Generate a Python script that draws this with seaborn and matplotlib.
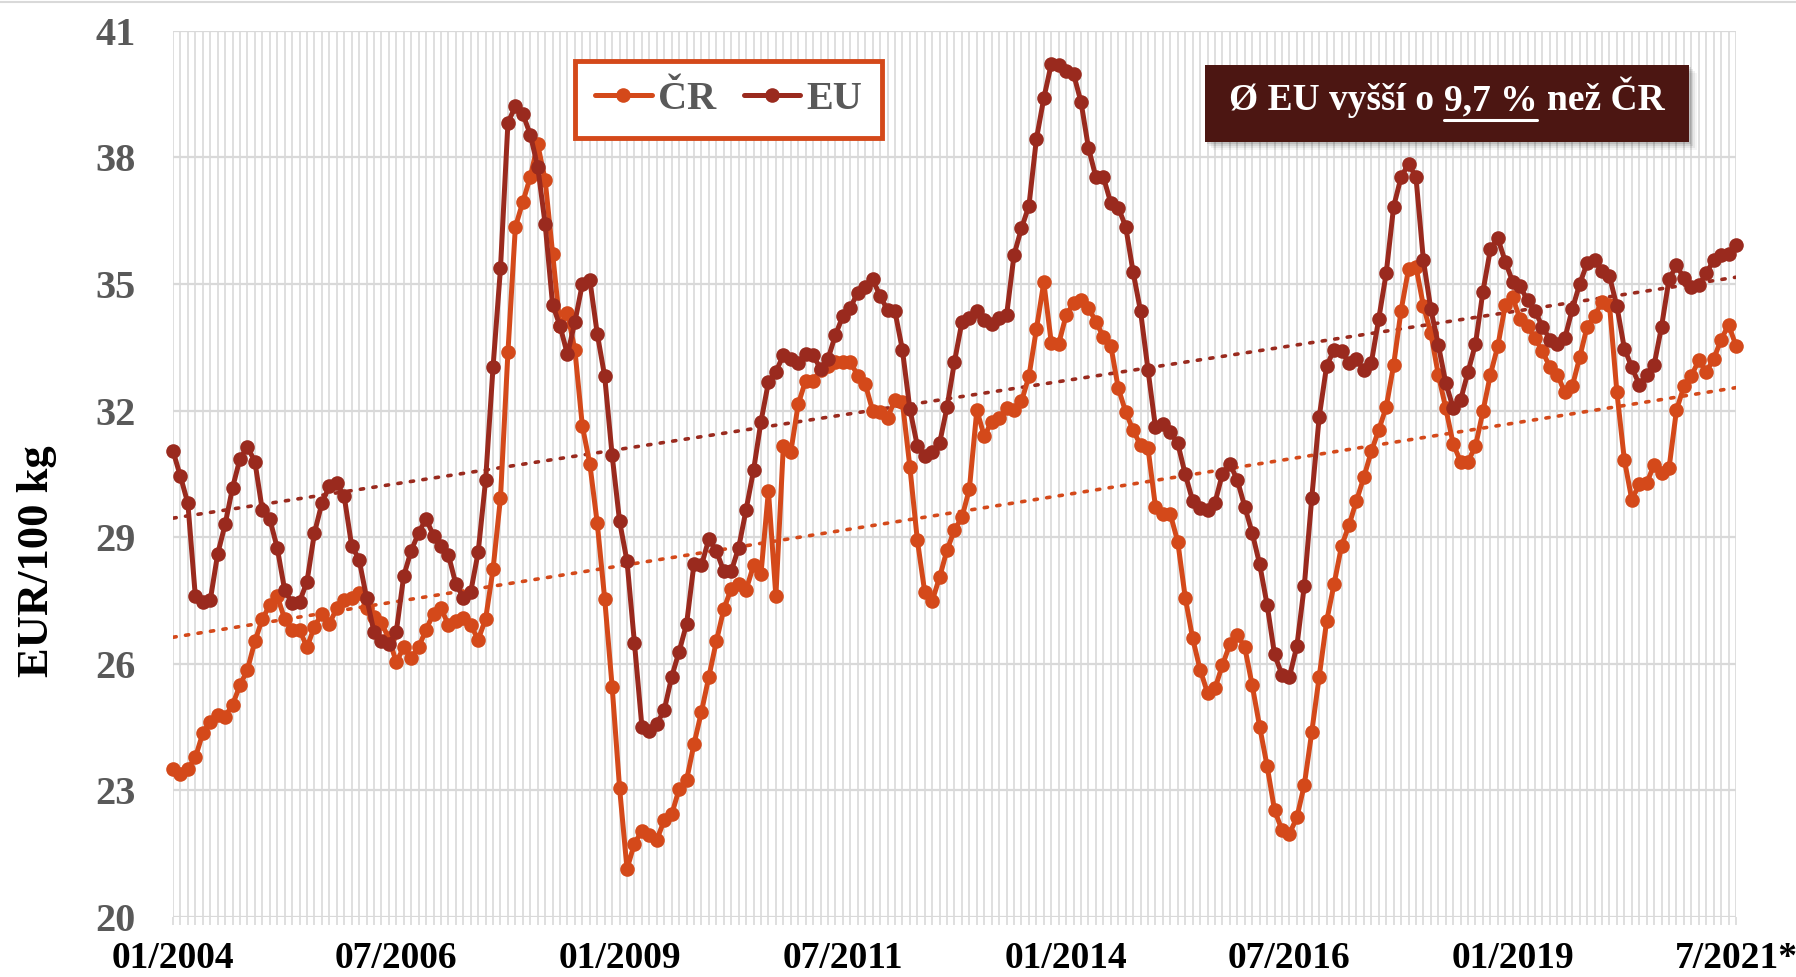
import numpy as np
import pandas as pd
import matplotlib
matplotlib.use("Agg")
import matplotlib.pyplot as plt
import seaborn as sns
from matplotlib.patches import Rectangle
from matplotlib.lines import Line2D

# ---------------- data (EUR/100 kg, monthly 01/2004 - 07/2021) ----------------
cr = [23.51, 23.38, 23.51, 23.78, 24.35, 24.63, 24.79, 24.75, 25.03, 25.49,
      25.86, 26.53, 27.06, 27.39, 27.61, 27.06, 26.81, 26.81, 26.39, 26.88,
      27.19, 26.94, 27.32, 27.50, 27.57, 27.67, 27.33, 27.11, 26.97, 26.60,
      26.04, 26.39, 26.14, 26.39, 26.81, 27.19, 27.32, 26.92, 27.01, 27.08,
      26.92, 26.57, 27.06, 28.24, 29.93, 33.38, 36.35, 36.94, 37.53, 38.31,
      37.46, 35.72, 34.00, 34.30, 33.43, 31.63, 30.74, 29.33, 27.54, 25.46,
      23.06, 21.14, 21.74, 22.04, 21.94, 21.83, 22.29, 22.43, 23.03, 23.24,
      24.10, 24.86, 25.69, 26.53, 27.29, 27.78, 27.89, 27.75, 28.33, 28.13,
      30.10, 27.60, 31.15, 31.01, 32.15, 32.71, 32.71, 32.96, 33.06, 33.15,
      33.15, 33.15, 32.83, 32.63, 32.00, 31.96, 31.83, 32.25, 32.20, 30.67,
      28.94, 27.70, 27.49, 28.05, 28.70, 29.17, 29.47, 30.14, 32.01, 31.39,
      31.74, 31.83, 32.06, 32.01, 32.22, 32.81, 33.93, 35.04, 33.61, 33.58,
      34.26, 34.54, 34.61, 34.44, 34.10, 33.75, 33.54, 32.53, 31.97, 31.53,
      31.18, 31.11, 29.72, 29.54, 29.54, 28.89, 27.57, 26.60, 25.86, 25.31,
      25.42, 25.97, 26.46, 26.69, 26.39, 25.49, 24.51, 23.58, 22.53, 22.06,
      21.97, 22.36, 23.13, 24.38, 25.69, 27.01, 27.89, 28.79, 29.28, 29.86,
      30.42, 31.03, 31.54, 32.08, 33.08, 34.37, 35.35, 35.41, 34.48, 33.83,
      32.85, 32.06, 31.21, 30.79, 30.79, 31.16, 31.98, 32.85, 33.53, 34.50,
      34.68, 34.16, 34.00, 33.71, 33.40, 33.03, 32.85, 32.43, 32.57, 33.26,
      33.99, 34.24, 34.58, 34.51, 32.43, 30.83, 29.89, 30.25, 30.28, 30.72,
      30.53, 30.63, 32.01, 32.57, 32.82, 33.19, 32.92, 33.22, 33.68, 34.03,
      33.54]

eu = [31.04, 30.44, 29.80, 27.60, 27.47, 27.50, 28.60, 29.30, 30.17, 30.86,
      31.14, 30.79, 29.64, 29.43, 28.75, 27.75, 27.43, 27.47, 27.94, 29.10,
      29.80, 30.21, 30.28, 29.97, 28.80, 28.47, 27.57, 26.76, 26.53, 26.46,
      26.76, 28.08, 28.68, 29.10, 29.44, 29.03, 28.80, 28.58, 27.89, 27.57,
      27.70, 28.64, 30.35, 33.03, 35.37, 38.82, 39.21, 39.03, 38.54, 37.78,
      36.42, 34.51, 34.00, 33.33, 34.10, 35.00, 35.10, 33.82, 32.81, 30.94,
      29.38, 28.43, 26.49, 24.51, 24.40, 24.58, 24.90, 25.69, 26.29, 26.94,
      28.37, 28.33, 28.96, 28.68, 28.19, 28.19, 28.75, 29.65, 30.58, 31.74,
      32.67, 32.92, 33.31, 33.22, 33.13, 33.33, 33.31, 32.99, 33.22, 33.79,
      34.24, 34.44, 34.79, 34.93, 35.11, 34.72, 34.38, 34.35, 33.44, 32.04,
      31.17, 30.92, 31.02, 31.23, 32.08, 33.16, 34.10, 34.19, 34.35, 34.14,
      34.06, 34.19, 34.26, 35.69, 36.32, 36.85, 38.43, 39.40, 40.21, 40.18,
      40.04, 39.97, 39.31, 38.22, 37.53, 37.53, 36.92, 36.81, 36.36, 35.28,
      34.35, 32.96, 31.60, 31.69, 31.49, 31.22, 30.49, 29.86, 29.69, 29.65,
      29.82, 30.50, 30.74, 30.35, 29.72, 29.10, 28.36, 27.40, 26.22, 25.74,
      25.69, 26.42, 27.85, 29.93, 31.85, 33.06, 33.44, 33.40, 33.13, 33.22,
      32.96, 33.13, 34.17, 35.25, 36.83, 37.53, 37.85, 37.53, 35.56, 34.40,
      33.56, 32.66, 32.06, 32.25, 32.92, 33.58, 34.82, 35.82, 36.08, 35.53,
      35.05, 34.94, 34.61, 34.35, 33.99, 33.68, 33.58, 33.71, 34.40, 35.00,
      35.49, 35.56, 35.31, 35.18, 34.47, 33.47, 33.03, 32.61, 32.85, 33.08,
      33.99, 35.11, 35.44, 35.14, 34.93, 34.97, 35.25, 35.56, 35.69, 35.72,
      35.93]

months = list(range(len(cr)))
series_names = ["ČR", "EU"]
tick_pos = [0, 30, 60, 90, 120, 150, 180, 210]
tick_labels = ["01/2004", "07/2006", "01/2009", "07/2011",
               "01/2014", "07/2016", "01/2019", "7/2021*"]
y_ticks = [20, 23, 26, 29, 32, 35, 38, 41]
y_label = "EUR/100 kg"
note_parts = ["Ø EU vyšší o", "9,7 %", "než ČR"]

# ---------------- style ----------------
colors = {"ČR": "#D4491A", "EU": "#9A2A1E"}
grid_c = "#D9D9D9"
text_gray = "#595959"

sns.set_theme(style="white")
plt.rcParams['font.family'] = ['Liberation Serif', 'DejaVu Serif']
plt.rcParams['font.weight'] = 'bold'

df = pd.DataFrame({"month": months, "ČR": cr, "EU": eu}).melt(
    id_vars="month", var_name="series", value_name="price")

W, H = 1796, 977
fig = plt.figure(figsize=(W / 100, H / 100), dpi=100)
ax_l, ax_r, ax_t, ax_b = 173, 1736, 30.7, 917
ax = fig.add_axes([ax_l / W, 1 - ax_b / H, (ax_r - ax_l) / W, (ax_b - ax_t) / H])

# linear trend lines (dotted)
for name in series_names:
    sub = df[df.series == name]
    sns.regplot(data=sub, x="month", y="price", scatter=False, ci=None, ax=ax,
                truncate=True,
                line_kws=dict(color=colors[name], lw=2.6, linestyle=(0, (0.9, 2.6)),
                              dash_capstyle="round", zorder=2))

# series
sns.lineplot(data=df, x="month", y="price", hue="series", hue_order=series_names,
             palette=colors, estimator=None, marker="o", markersize=10.5,
             markeredgewidth=0, lw=3.6, ax=ax, legend=False, zorder=3,
             clip_on=False)

ax.set_xlim(0, 210)
ax.set_ylim(20, 41)
ax.set_yticks(y_ticks)
ax.set_xticks(tick_pos, tick_labels)
ax.set_xticks(months, minor=True)
ax.set_axisbelow(True)
ax.grid(axis="y", which="major", color=grid_c, lw=1.6)
ax.grid(axis="x", which="both", color=grid_c, lw=1.2)
for s in ax.spines.values():
    s.set_visible(False)
ax.tick_params(axis="x", which="both", bottom=True, length=6, width=1.2,
               color=grid_c, direction="out")
ax.tick_params(axis="x", which="major", labelsize=27, pad=11, labelcolor="black")
ax.tick_params(axis="y", which="both", left=False, length=0, labelsize=29,
               pad=27, labelcolor=text_gray)
for lab in ax.get_xticklabels() + ax.get_yticklabels():
    lab.set_fontweight("bold")

ax.set_xlabel("")
ax.set_ylabel(y_label, fontsize=32, fontweight="bold", color="black")
ax.yaxis.set_label_coords((57 - ax_l) / (ax_r - ax_l), (ax_b - 561) / (ax_b - ax_t))

# legend
handles = [Line2D([], [], color=colors[n], lw=3.6, marker="o", markersize=10.5,
                  markeredgewidth=0) for n in series_names]
leg = ax.legend(handles, series_names, loc="upper left",
                bbox_to_anchor=((575 - ax_l) / (ax_r - ax_l), (ax_b - 61) / (ax_b - ax_t)),
                ncol=2, frameon=True, fancybox=False, framealpha=1,
                edgecolor=colors["ČR"], prop=dict(weight="bold", size=29),
                labelcolor=text_gray, handlelength=1.4, handletextpad=0.15,
                columnspacing=0.7, borderpad=0.5, borderaxespad=0, numpoints=1)
leg.get_frame().set_linewidth(3.5)

# annotation box with shadow
bx0, bx1, by0, by1 = 1205, 1689, 65, 142
for k, a in enumerate([0.10, 0.08, 0.06, 0.04]):
    off = 2 + 2 * k
    fig.patches.append(Rectangle(((bx0 + off) / W, 1 - (by1 + off) / H),
                                 (bx1 - bx0) / W, (by1 - by0) / H,
                                 transform=fig.transFigure, facecolor="black",
                                 edgecolor="none", alpha=a, zorder=5))
fig.patches.append(Rectangle((bx0 / W, 1 - by1 / H), (bx1 - bx0) / W, (by1 - by0) / H,
                             transform=fig.transFigure, facecolor="#4C1612",
                             edgecolor="none", zorder=6))

note_fs = 27
base_y = 1 - 110 / H
texts = [fig.text(0, base_y, p, color="white", fontsize=note_fs, fontweight="bold",
                  ha="left", va="baseline", zorder=7) for p in note_parts]
fig.canvas.draw()
r = fig.canvas.get_renderer()
widths = [t.get_window_extent(r).width for t in texts]
gap = 0.25 * note_fs * 100 / 72
total = sum(widths) + gap * (len(widths) - 1)
x = (bx0 + bx1) / 2 - total / 2
starts = []
for t, w in zip(texts, widths):
    t.set_x(x / W)
    starts.append((x, x + w))
    x += w + gap
ux0, ux1 = starts[1]
fig.add_artist(Line2D([ux0 / W, ux1 / W], [1 - 119.5 / H] * 2, color="white", lw=2.2,
                      transform=fig.transFigure, zorder=7))

# thin top border of the chart area
fig.add_artist(Line2D([0, 1], [1 - 2 / H] * 2, color=grid_c, lw=1.5,
                      transform=fig.transFigure))

fig.savefig("out.png", dpi=100, facecolor="white")
